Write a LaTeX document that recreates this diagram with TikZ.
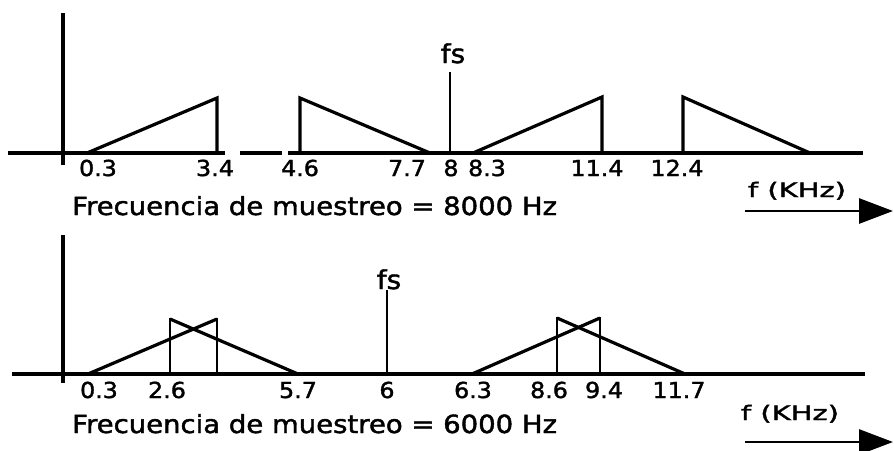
\documentclass[tikz,border=0pt]{standalone}
\usepackage{fontspec}
\usepackage{graphicx}
\setmainfont{DejaVu Sans}[FakeBold=1.6]
\usetikzlibrary{arrows.meta}
\newcommand{\widetxt}[2][1.08]{\scalebox{#1}[1]{#2}}
\begin{document}
\begin{tikzpicture}[x=1pt,y=-1pt,
  axis/.style={line width=3.2pt},
  band/.style={line width=3.2pt, line join=miter},
  tline/.style={line width=2.3pt},
  num/.style={anchor=base, inner sep=0pt, font=\fontsize{22}{22}\selectfont},
  caption/.style={anchor=base west, inner sep=0pt, font=\fontsize{25}{25}\selectfont},
  fslbl/.style={anchor=base, inner sep=0pt, font=\fontsize{26}{26}\selectfont},
  unit/.style={anchor=base, inner sep=0pt, font=\fontsize{20}{20}\selectfont},
  farrow/.style={line width=2.8pt, -{Triangle[length=34pt,width=25pt]}}
]
\useasboundingbox (0,0) rectangle (894,450);

% ---------- top panel ----------
\draw[axis] (63,13) -- (63,165);
\draw[axis] (8,153) -- (225,153);
\draw[axis] (240,153) -- (282,153);
\draw[axis] (288,153) -- (863,153);
\draw[band] (87,153) -- (217,98) -- (217,153);
\draw[band] (300,153) -- (300,98) -- (430,153);
\draw[band] (473,153) -- (602,97) -- (602,153);
\draw[band] (683,153) -- (683,97) -- (810,153);
\draw[tline] (450,72) -- (450,153);
\node[fslbl] (fsA) at (453,63) {\widetxt{fs}};

\node[num] (a03) at (98,176) {\widetxt{0.3}};
\node[num] (a34) at (215,176) {\widetxt{3.4}};
\node[num] (a46) at (300,176) {\widetxt{4.6}};
\node[num] (a77) at (407,176) {\widetxt{7.7}};
\node[num] (a8) at (451,176) {\widetxt{8}};
\node[num] (a83) at (487,176) {\widetxt{8.3}};
\node[num] (a114) at (597,176) {\widetxt{11.4}};
\node[num] (a124) at (677,176) {\widetxt{12.4}};

\node[caption] (capA) at (72,215) {\widetxt[1.1]{Frecuencia de muestreo = 8000 Hz}};
\node[unit] (unitA) at (797,197) {\widetxt[1.45]{f (KHz)}};
\coordinate (arA1) at (745,211);
\coordinate (arA2) at (893,211);
\draw[farrow] (arA1) -- (arA2);

% ---------- bottom panel ----------
\draw[axis] (63,235) -- (63,383);
\draw[axis] (12,374) -- (865,374);
\draw[band] (88,374) -- (217,319);
\draw[band] (170,319) -- (298,374);
\draw[tline] (170,374) -- (170,318);
\draw[tline] (217,374) -- (217,318);
\draw[band] (472,374) -- (600,318);
\draw[band] (557,318) -- (685,374);
\draw[tline] (557,374) -- (557,317);
\draw[tline] (600,374) -- (600,317);
\draw[tline] (387,290) -- (387,374);
\node[fslbl] (fsB) at (389,289) {\widetxt{fs}};

\node[num] (b03) at (99,398) {\widetxt{0.3}};
\node[num] (b26) at (167,398) {\widetxt{2.6}};
\node[num] (b57) at (298,398) {\widetxt{5.7}};
\node[num] (b6) at (387,398) {\widetxt{6}};
\node[num] (b63) at (473,398) {\widetxt{6.3}};
\node[num] (b86) at (549,398) {\widetxt{8.6}};
\node[num] (b94) at (604,398) {\widetxt{9.4}};
\node[num] (b117) at (679,398) {\widetxt{11.7}};

\node[caption] (capB) at (72,433) {\widetxt[1.1]{Frecuencia de muestreo = 6000 Hz}};
\node[unit] (unitB) at (790,420) {\widetxt[1.45]{f (KHz)}};
\coordinate (arB1) at (745,442);
\coordinate (arB2) at (893,442);
\draw[farrow] (arB1) -- (arB2);
\end{tikzpicture}
\end{document}
